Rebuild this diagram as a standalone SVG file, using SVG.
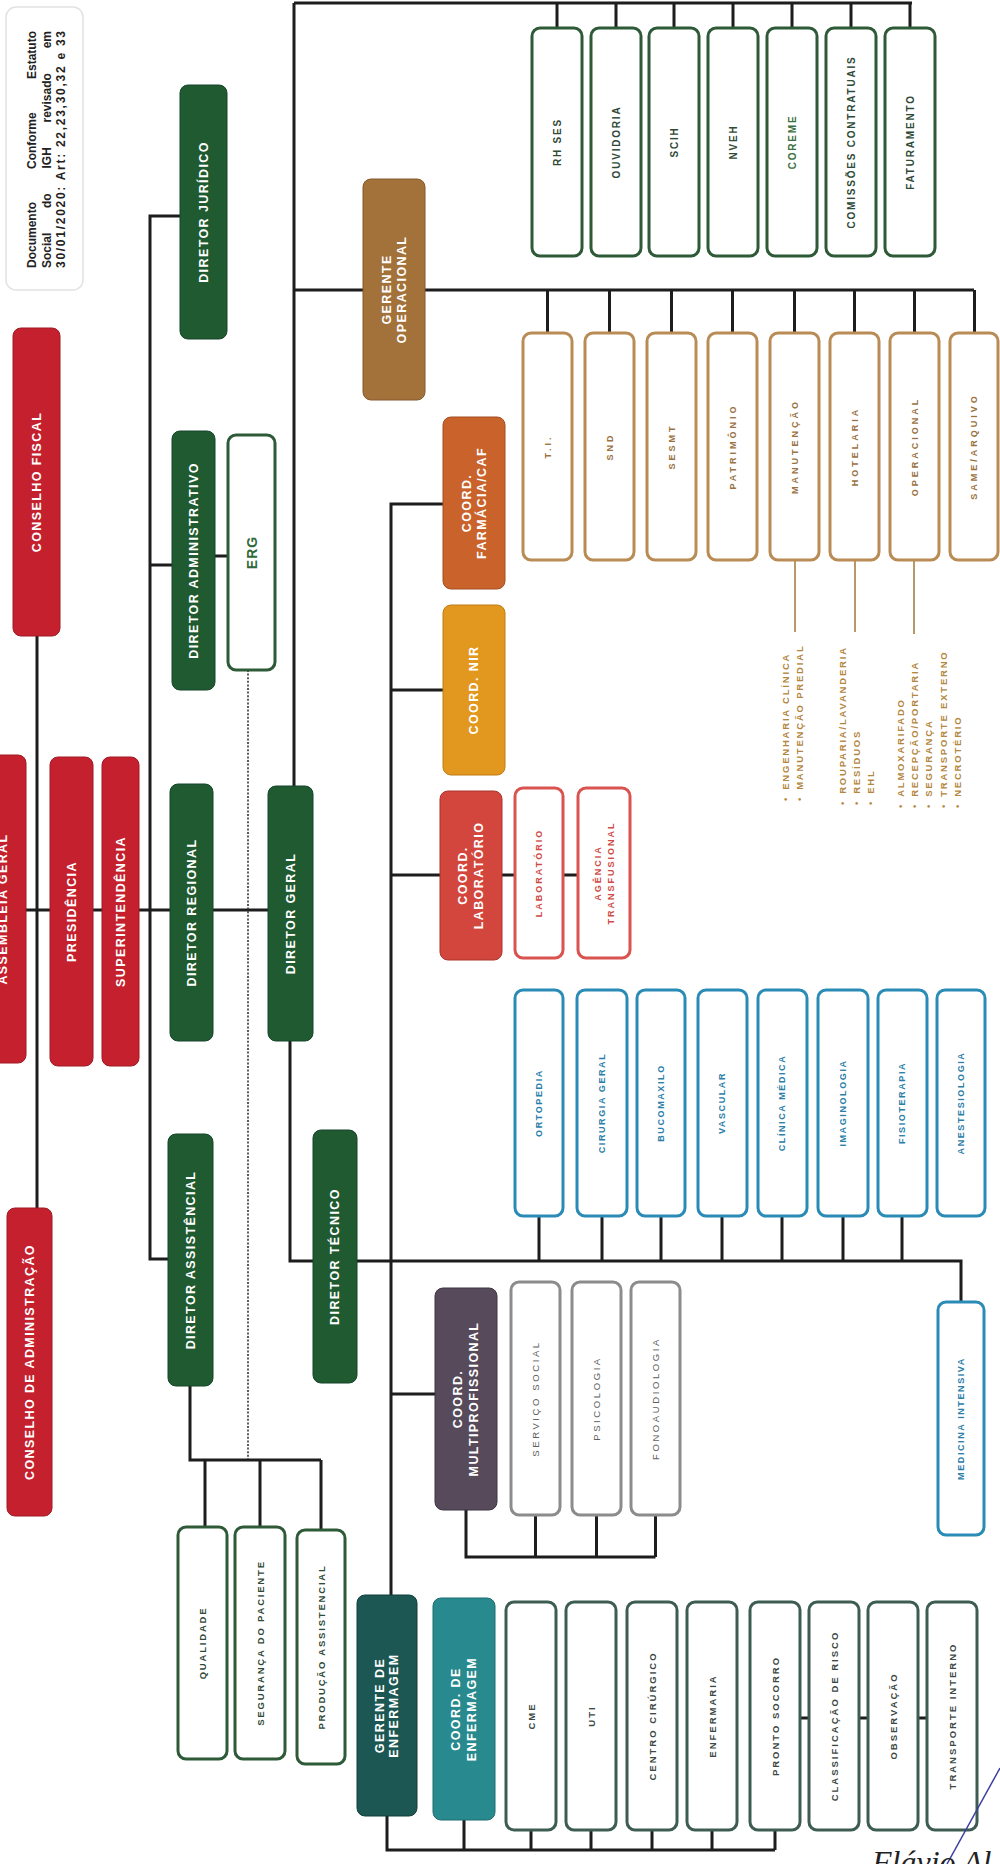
<svg xmlns="http://www.w3.org/2000/svg" width="1000" height="1864" viewBox="0 0 1000 1864">
<style>
.ln{fill:none;stroke:#1d1d1d;stroke-width:3}
.dt{fill:none;stroke:#333;stroke-width:1.6;stroke-dasharray:2 1.6}
.tb{fill:none;stroke:#b8986a;stroke-width:2}
text{font-family:"Liberation Sans",Arial,sans-serif;font-weight:bold;text-anchor:middle;dominant-baseline:central}
.w{fill:#fff;font-size:12.5px;letter-spacing:1.4px}
.red{fill:#c5202e;stroke:#9e1a24;stroke-width:1}
.grn{fill:#1f5a31;stroke:#16442a;stroke-width:1}
.og{fill:#fff;stroke:#2f5a38;stroke-width:3}
.tg{fill:#2f4a37;font-size:10px;letter-spacing:1.8px}
.ob{fill:#fff;stroke:#b98b55;stroke-width:3}
.tbr{fill:#9a7242;font-size:9px;letter-spacing:3px}
.ol{fill:#fff;stroke:#d9534f;stroke-width:3}
.tl{fill:#d04a45;font-size:9px;letter-spacing:2px}
.obl{fill:#fff;stroke:#2a8cb6;stroke-width:3}
.tbl{fill:#2a7ea8;font-size:9px;letter-spacing:1.6px}
.ogy{fill:#fff;stroke:#8c8c8c;stroke-width:3}
.tgy{fill:#5e5e5e;font-size:9.5px;letter-spacing:2.6px;font-weight:normal}
.on{fill:#fff;stroke:#3e5d52;stroke-width:3}
.tn{fill:#3b4843;font-size:9.5px;letter-spacing:2px}
.li{fill:#b3873f;font-size:9.5px;letter-spacing:1.8px;text-anchor:start}
.nt{fill:#222;font-size:12px;text-anchor:start}
</style>

<g id="connectors">
  <path class="ln" d="M294,3 H912 M294,3 V786 M294,290 H974"/>
  <path class="ln" d="M557,3 V28 M616,3 V28 M674,3 V28 M733,3 V28 M792,3 V28 M851,3 V28 M910,3 V28"/>
  <path class="ln" d="M547.5,290 V333 M609.5,290 V333 M671.5,290 V333 M732.5,290 V333 M794.5,290 V333 M854.5,290 V333 M914.5,290 V333 M974.5,290 V333"/>
  <path class="tb" d="M795,560 V632 M855,560 V632 M914,560 V634"/>
  <path class="ln" d="M37,636 V1208 M26,910 H268"/>
  <path class="ln" d="M180,216 H150 V1259 H168 M150,565 H172 M215,556 H228"/>
  <path class="dt" d="M248,670 V1460"/>
  <path class="ln" d="M290,1041 V1261 H961 V1302"/>
  <path class="ln" d="M539,1216 V1261 M602,1216 V1261 M661,1216 V1261 M722,1216 V1261 M782,1216 V1261 M843,1216 V1261 M902,1216 V1261"/>
  <path class="ln" d="M443,504 H391 V1595 M391,690 H443 M391,875 H440 M391,1394 H435"/>
  <path class="ln" d="M502,875 H515 M563,875 H578"/>
  <path class="ln" d="M190,1386 V1460 H321 M205,1460 V1527 M260,1460 V1527 M321,1460 V1530"/>
  <path class="ln" d="M466,1510 V1557 H655.5 M535.5,1515 V1557 M596.5,1515 V1557 M655.5,1515 V1557"/>
  <path class="ln" d="M387,1816 V1850 H775 M464,1820 V1850 M531,1830 V1850 M591,1830 V1850 M652,1830 V1850 M712,1830 V1850 M775,1830 V1850"/>
  <path class="ln" d="M800,1718 H809 M859,1718 H868 M918,1718 H927"/>
</g>

<g id="nota">
  <rect x="6" y="7" width="77" height="283" rx="10" fill="#fff" stroke="#e2e2e2" stroke-width="1.5"/>
  <text class="nt" transform="translate(32,268) rotate(-90)"><tspan x="0">Documento</tspan><tspan x="99">Conforme</tspan><tspan x="189">Estatuto</tspan></text>
  <text class="nt" transform="translate(47,268) rotate(-90)"><tspan x="0">Social</tspan><tspan x="60">do</tspan><tspan x="99.5">IGH</tspan><tspan x="145.5">revisado</tspan><tspan x="219.7">em</tspan></text>
  <text class="nt" transform="translate(61,268) rotate(-90)" textLength="237" lengthAdjust="spacing">30/01/2020: Art: 22,23,30,32 e 33</text>
</g>

<g id="conselho-fiscal"><rect class="red" x="13" y="328" width="47" height="308" rx="8"/><text class="w" transform="translate(36.5,482) rotate(-90)">CONSELHO FISCAL</text></g>
<g id="assembleia-geral"><rect class="red" x="-25" y="755" width="51" height="308" rx="8"/><text class="w" transform="translate(3,909) rotate(-90)">ASSEMBLEIA GERAL</text></g>
<g id="presidencia"><rect class="red" x="50" y="757" width="43" height="309" rx="8"/><text class="w" transform="translate(71.5,911.5) rotate(-90)">PRESIDÊNCIA</text></g>
<g id="superintendencia"><rect class="red" x="102" y="757" width="37" height="309" rx="8"/><text class="w" transform="translate(120.5,911.5) rotate(-90)">SUPERINTENDÊNCIA</text></g>
<g id="conselho-administracao"><rect class="red" x="7" y="1208" width="45" height="308" rx="8"/><text class="w" transform="translate(29.5,1362) rotate(-90)">CONSELHO DE ADMINISTRAÇÃO</text></g>

<g id="diretor-juridico"><rect class="grn" x="180" y="85" width="47" height="254" rx="8"/><text class="w" transform="translate(203.5,212) rotate(-90)">DIRETOR JURÍDICO</text></g>
<g id="diretor-administrativo"><rect class="grn" x="172" y="431" width="43" height="259" rx="8"/><text class="w" transform="translate(193.5,560.5) rotate(-90)">DIRETOR ADMINISTRATIVO</text></g>
<g id="erg"><rect class="og" x="228" y="435" width="47" height="235" rx="8"/><text transform="translate(251.5,552.5) rotate(-90)" style="fill:#2f6a3a;font-size:14px;letter-spacing:1px">ERG</text></g>
<g id="diretor-regional"><rect class="grn" x="170" y="784" width="43" height="257" rx="8"/><text class="w" transform="translate(191.5,912.5) rotate(-90)">DIRETOR REGIONAL</text></g>
<g id="diretor-geral"><rect class="grn" x="268" y="786" width="45" height="255" rx="8"/><text class="w" transform="translate(290.5,913.5) rotate(-90)">DIRETOR GERAL</text></g>
<g id="diretor-assistencial"><rect class="grn" x="168" y="1134" width="45" height="252" rx="8"/><text class="w" transform="translate(190.5,1260) rotate(-90)">DIRETOR ASSISTÊNCIAL</text></g>
<g id="diretor-tecnico"><rect class="grn" x="313" y="1130" width="44" height="253" rx="8"/><text class="w" transform="translate(335,1256.5) rotate(-90)">DIRETOR TÉCNICO</text></g>

<g id="qualidade"><rect class="og" x="178" y="1527" width="49" height="232" rx="8"/><text class="tg" style="font-size:9.5px" transform="translate(202.5,1643) rotate(-90)">QUALIDADE</text></g>
<g id="seguranca-paciente"><rect class="og" x="235" y="1527" width="50" height="232" rx="8"/><text class="tg" style="font-size:9.5px" transform="translate(260,1643) rotate(-90)">SEGURANÇA DO PACIENTE</text></g>
<g id="producao-assistencial"><rect class="og" x="297" y="1530" width="48" height="234" rx="8"/><text class="tg" style="font-size:9.5px" transform="translate(321,1647) rotate(-90)">PRODUÇÃO ASSISTENCIAL</text></g>

<g id="gerente-operacional"><rect x="363" y="179" width="62" height="221" rx="8" fill="#a3713a" stroke="#84592b"/><text class="w" transform="translate(394,289.5) rotate(-90)"><tspan x="0" y="-7.5">GERENTE</tspan><tspan x="0" y="7.5">OPERACIONAL</tspan></text></g>

<g id="rh-ses"><rect class="og" x="532" y="28" width="50" height="228" rx="8"/><text class="tg" transform="translate(557,142) rotate(-90)">RH SES</text></g>
<g id="ouvidoria"><rect class="og" x="591" y="28" width="50" height="228" rx="8"/><text class="tg" transform="translate(616,142) rotate(-90)">OUVIDORIA</text></g>
<g id="scih"><rect class="og" x="649" y="28" width="50" height="228" rx="8"/><text class="tg" transform="translate(674,142) rotate(-90)">SCIH</text></g>
<g id="nveh"><rect class="og" x="708" y="28" width="50" height="228" rx="8"/><text class="tg" transform="translate(733,142) rotate(-90)">NVEH</text></g>
<g id="coreme"><rect class="og" x="767" y="28" width="50" height="228" rx="8"/><text class="tg" style="fill:#3a7040" transform="translate(792,142) rotate(-90)">COREME</text></g>
<g id="comissoes-contratuais"><rect class="og" x="826" y="28" width="50" height="228" rx="8"/><text class="tg" transform="translate(851,142) rotate(-90)">COMISSÕES CONTRATUAIS</text></g>
<g id="faturamento"><rect class="og" x="885" y="28" width="50" height="228" rx="8"/><text class="tg" transform="translate(910,142) rotate(-90)">FATURAMENTO</text></g>

<g id="ti"><rect class="ob" x="523" y="333" width="49" height="227" rx="8"/><text class="tbr" transform="translate(547.5,446.5) rotate(-90)">T.I.</text></g>
<g id="snd"><rect class="ob" x="585" y="333" width="49" height="227" rx="8"/><text class="tbr" transform="translate(609.5,446.5) rotate(-90)">SND</text></g>
<g id="sesmt"><rect class="ob" x="647" y="333" width="49" height="227" rx="8"/><text class="tbr" transform="translate(671.5,446.5) rotate(-90)">SESMT</text></g>
<g id="patrimonio"><rect class="ob" x="708" y="333" width="49" height="227" rx="8"/><text class="tbr" transform="translate(732.5,446.5) rotate(-90)">PATRIMÔNIO</text></g>
<g id="manutencao"><rect class="ob" x="770" y="333" width="49" height="227" rx="8"/><text class="tbr" transform="translate(794.5,446.5) rotate(-90)">MANUTENÇÃO</text></g>
<g id="hotelaria"><rect class="ob" x="830" y="333" width="49" height="227" rx="8"/><text class="tbr" transform="translate(854.5,446.5) rotate(-90)">HOTELARIA</text></g>
<g id="operacional"><rect class="ob" x="890" y="333" width="49" height="227" rx="8"/><text class="tbr" transform="translate(914.5,446.5) rotate(-90)">OPERACIONAL</text></g>
<g id="same-arquivo"><rect class="ob" x="950" y="333" width="48" height="227" rx="8"/><text class="tbr" transform="translate(974,446.5) rotate(-90)">SAME/ARQUIVO</text></g>

<g id="lista-manutencao">
  <text class="li" transform="translate(785,801) rotate(-90)">•<tspan dx="6">ENGENHARIA CLÍNICA</tspan></text>
  <text class="li" transform="translate(799,801) rotate(-90)">•<tspan dx="6">MANUTENÇÃO PREDIAL</tspan></text>
</g>
<g id="lista-hotelaria">
  <text class="li" transform="translate(842,805) rotate(-90)">•<tspan dx="6">ROUPARIA/LAVANDERIA</tspan></text>
  <text class="li" transform="translate(856,805) rotate(-90)">•<tspan dx="6">RESÍDUOS</tspan></text>
  <text class="li" transform="translate(870,805) rotate(-90)">•<tspan dx="6">EHL</tspan></text>
</g>
<g id="lista-operacional">
  <text class="li" transform="translate(900,808) rotate(-90)">•<tspan dx="6">ALMOXARIFADO</tspan></text>
  <text class="li" transform="translate(914,808) rotate(-90)">•<tspan dx="6">RECEPÇÃO/PORTARIA</tspan></text>
  <text class="li" transform="translate(928,808) rotate(-90)">•<tspan dx="6">SEGURANÇA</tspan></text>
  <text class="li" transform="translate(943,808) rotate(-90)">•<tspan dx="6">TRANSPORTE EXTERNO</tspan></text>
  <text class="li" transform="translate(957,808) rotate(-90)">•<tspan dx="6">NECROTÉRIO</tspan></text>
</g>

<g id="coord-farmacia"><rect x="443" y="417" width="62" height="172" rx="8" fill="#c9632b" stroke="#a44e20"/><text class="w" transform="translate(474,503) rotate(-90)"><tspan x="0" y="-7.5">COORD.</tspan><tspan x="0" y="7.5">FARMÁCIA/CAF</tspan></text></g>
<g id="coord-nir"><rect x="443" y="605" width="62" height="170" rx="8" fill="#e2971f" stroke="#c07d14"/><text class="w" transform="translate(474,690) rotate(-90)">COORD. NIR</text></g>
<g id="coord-laboratorio"><rect x="440" y="791" width="62" height="169" rx="8" fill="#d2463d" stroke="#a8342d"/><text class="w" transform="translate(471,875.5) rotate(-90)"><tspan x="0" y="-8">COORD.</tspan><tspan x="0" y="8">LABORATÓRIO</tspan></text></g>
<g id="laboratorio"><rect class="ol" x="515" y="788" width="48" height="170" rx="8"/><text class="tl" transform="translate(539,873) rotate(-90)">LABORATÓRIO</text></g>
<g id="agencia-transfusional"><rect class="ol" x="578" y="788" width="52" height="170" rx="8"/><text class="tl" transform="translate(604,873) rotate(-90)"><tspan x="0" y="-6.5">AGÊNCIA</tspan><tspan x="0" y="6.5">TRANSFUSIONAL</tspan></text></g>

<g id="ortopedia"><rect class="obl" x="515" y="990" width="48" height="226" rx="8"/><text class="tbl" transform="translate(539,1103) rotate(-90)">ORTOPEDIA</text></g>
<g id="cirurgia-geral"><rect class="obl" x="577" y="990" width="50" height="226" rx="8"/><text class="tbl" transform="translate(602,1103) rotate(-90)">CIRURGIA GERAL</text></g>
<g id="bucomaxilo"><rect class="obl" x="637" y="990" width="48" height="226" rx="8"/><text class="tbl" transform="translate(661,1103) rotate(-90)">BUCOMAXILO</text></g>
<g id="vascular"><rect class="obl" x="698" y="990" width="49" height="226" rx="8"/><text class="tbl" transform="translate(722,1103) rotate(-90)">VASCULAR</text></g>
<g id="clinica-medica"><rect class="obl" x="758" y="990" width="49" height="226" rx="8"/><text class="tbl" transform="translate(782,1103) rotate(-90)">CLÍNICA MÉDICA</text></g>
<g id="imaginologia"><rect class="obl" x="818" y="990" width="50" height="226" rx="8"/><text class="tbl" transform="translate(843,1103) rotate(-90)">IMAGINOLOGIA</text></g>
<g id="fisioterapia"><rect class="obl" x="878" y="990" width="49" height="226" rx="8"/><text class="tbl" transform="translate(902,1103) rotate(-90)">FISIOTERAPIA</text></g>
<g id="anestesiologia"><rect class="obl" x="937" y="990" width="48" height="226" rx="8"/><text class="tbl" transform="translate(961,1103) rotate(-90)">ANESTESIOLOGIA</text></g>
<g id="medicina-intensiva"><rect class="obl" x="938" y="1302" width="46" height="233" rx="8"/><text class="tbl" transform="translate(961,1418.5) rotate(-90)">MEDICINA INTENSIVA</text></g>

<g id="coord-multiprofissional"><rect x="435" y="1288" width="62" height="222" rx="8" fill="#564a5b" stroke="#3f3543"/><text class="w" transform="translate(466,1399) rotate(-90)"><tspan x="0" y="-8">COORD.</tspan><tspan x="0" y="8">MULTIPROFISSIONAL</tspan></text></g>
<g id="servico-social"><rect class="ogy" x="511" y="1282" width="49" height="233" rx="8"/><text class="tgy" transform="translate(535.5,1398.5) rotate(-90)">SERVIÇO SOCIAL</text></g>
<g id="psicologia"><rect class="ogy" x="572" y="1282" width="49" height="233" rx="8"/><text class="tgy" transform="translate(596.5,1398.5) rotate(-90)">PSICOLOGIA</text></g>
<g id="fonoaudiologia"><rect class="ogy" x="631" y="1282" width="49" height="233" rx="8"/><text class="tgy" transform="translate(655.5,1398.5) rotate(-90)">FONOAUDIOLOGIA</text></g>

<g id="gerente-enfermagem"><rect x="357" y="1595" width="60" height="221" rx="8" fill="#1c5753" stroke="#123f3c"/><text class="w" transform="translate(387,1705.5) rotate(-90)"><tspan x="0" y="-7">GERENTE DE</tspan><tspan x="0" y="7">ENFERMAGEM</tspan></text></g>
<g id="coord-enfermagem"><rect x="433" y="1598" width="62" height="222" rx="8" fill="#28898e" stroke="#1d6c70"/><text class="w" transform="translate(464,1709) rotate(-90)"><tspan x="0" y="-8">COORD. DE</tspan><tspan x="0" y="8">ENFERMAGEM</tspan></text></g>
<g id="cme"><rect class="on" x="506" y="1602" width="50" height="228" rx="8"/><text class="tn" transform="translate(531,1716) rotate(-90)">CME</text></g>
<g id="uti"><rect class="on" x="566" y="1602" width="50" height="228" rx="8"/><text class="tn" transform="translate(591,1716) rotate(-90)">UTI</text></g>
<g id="centro-cirurgico"><rect class="on" x="627" y="1602" width="50" height="228" rx="8"/><text class="tn" transform="translate(652,1716) rotate(-90)">CENTRO CIRÚRGICO</text></g>
<g id="enfermaria"><rect class="on" x="687" y="1602" width="50" height="228" rx="8"/><text class="tn" transform="translate(712,1716) rotate(-90)">ENFERMARIA</text></g>
<g id="pronto-socorro"><rect class="on" x="750" y="1602" width="50" height="228" rx="8"/><text class="tn" transform="translate(775,1716) rotate(-90)">PRONTO SOCORRO</text></g>
<g id="classificacao-risco"><rect class="on" x="809" y="1602" width="50" height="228" rx="8"/><text class="tn" transform="translate(834,1716) rotate(-90)">CLASSIFICAÇÃO DE RISCO</text></g>
<g id="observacao"><rect class="on" x="868" y="1602" width="50" height="228" rx="8"/><text class="tn" transform="translate(893,1716) rotate(-90)">OBSERVAÇÃO</text></g>
<g id="transporte-interno"><rect class="on" x="927" y="1602" width="50" height="228" rx="8"/><text class="tn" transform="translate(952,1716) rotate(-90)">TRANSPORTE INTERNO</text></g>

<g id="assinatura">
  <path d="M1000,1768 L947,1864" fill="none" stroke="#3b3fa0" stroke-width="1.5"/>
  <text x="872" y="1873" style="font-family:'Liberation Serif',serif;font-style:italic;font-weight:normal;font-size:32px;text-anchor:start;dominant-baseline:alphabetic;fill:#222">Flávio Al</text>
</g>
</svg>
